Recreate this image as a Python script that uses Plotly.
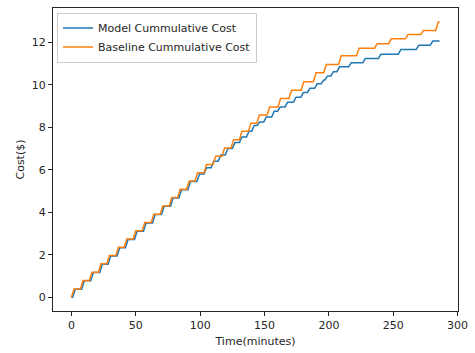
import plotly.graph_objects as go

# Cumulative cost step data: time (minutes) at which each charge lands, and the running total after it
end_time = 286

model_step_times = [3, 10, 17, 24, 30.5, 37.5, 44, 51, 58, 65, 72, 79, 85.5, 92.5, 99.5,
                    105, 110.5, 116, 121.5, 127, 132.5, 138, 142, 146.3, 151.4, 157.6, 162.2,
                    167.9, 174.5, 180.2, 185.3, 190.9, 196, 199, 203.5, 208.3, 217.3, 228.3,
                    240.4, 255.9, 269.8, 280.7]
model_costs = [0.38, 0.77, 1.16, 1.55, 1.94, 2.33, 2.72, 3.11, 3.50, 3.89, 4.28, 4.67, 5.06,
               5.45, 5.80, 6.10, 6.40, 6.70, 7.00, 7.28, 7.55, 7.82, 8.09, 8.25, 8.49, 8.76,
               8.96, 9.18, 9.42, 9.64, 9.84, 10.05, 10.23, 10.42, 10.62, 10.85, 11.04, 11.24,
               11.44, 11.66, 11.86, 12.06]

baseline_step_times = [2, 9, 16, 23, 29.5, 36.5, 43, 50, 57, 64, 71, 78, 84.5, 91.5, 98, 105,
                       112, 119, 126, 132.5, 139.5, 146, 154, 162.5, 171, 180.5, 190, 198,
                       209.5, 223.5, 237.5, 248.5, 261.5, 273.5, 285]
baseline_costs = [0.39, 0.79, 1.18, 1.57, 1.96, 2.35, 2.74, 3.13, 3.52, 3.91, 4.30, 4.69, 5.08,
                  5.47, 5.86, 6.25, 6.64, 7.03, 7.42, 7.81, 8.19, 8.58, 8.96, 9.36, 9.75, 10.15,
                  10.57, 10.96, 11.37, 11.73, 11.94, 12.17, 12.37, 12.56, 12.97]

x_ticks = [0, 50, 100, 150, 200, 250, 300]
y_ticks = [0, 2, 4, 6, 8, 10, 12]

RAMP = 2.0  # sampling interval: each charge shows up as a short diagonal rise


def cumulative_path(times, costs, t_end):
    xs, ys = [0.0], [0.0]
    prev = 0.0
    for t, c in zip(times, costs):
        xs += [max(t - RAMP, xs[-1]), t]
        ys += [prev, c]
        prev = c
    xs.append(t_end)
    ys.append(prev)
    return xs, ys


mx, my = cumulative_path(model_step_times, model_costs, end_time)
bx, by = cumulative_path(baseline_step_times, baseline_costs, end_time)

fig = go.Figure()
fig.add_trace(go.Scatter(x=mx, y=my, mode="lines", name="Model Cummulative Cost",
                         line=dict(color="#1f77b4", width=1.5)))
fig.add_trace(go.Scatter(x=bx, y=by, mode="lines", name="Baseline Cummulative Cost",
                         line=dict(color="#ff7f0e", width=1.5)))

axis_common = dict(showgrid=False, zeroline=False, showline=True, linecolor="#262626",
                   linewidth=1, mirror=True, ticks="outside", ticklen=4, tickwidth=1,
                   tickcolor="#262626", tickfont=dict(size=11, color="#262626"))

fig.update_layout(
    width=475, height=353,
    margin=dict(l=53, r=11, t=7, b=41),
    paper_bgcolor="white", plot_bgcolor="white",
    font=dict(family="DejaVu Sans", size=11, color="#262626"),
    xaxis=dict(range=[-14.3, 300.3], tickvals=x_ticks,
               title=dict(text="Time(minutes)", standoff=6, font=dict(size=11)),
               **axis_common),
    yaxis=dict(range=[-0.65, 13.62], tickvals=y_ticks,
               title=dict(text="Cost($)", standoff=4, font=dict(size=11)),
               **axis_common),
    legend=dict(x=0.01, y=0.985, xanchor="left", yanchor="top",
                bgcolor="rgba(255,255,255,0.8)", bordercolor="#cccccc", borderwidth=1,
                font=dict(size=11, color="#262626"), tracegroupgap=0),
    showlegend=True,
)

fig.write_html("out.html")
